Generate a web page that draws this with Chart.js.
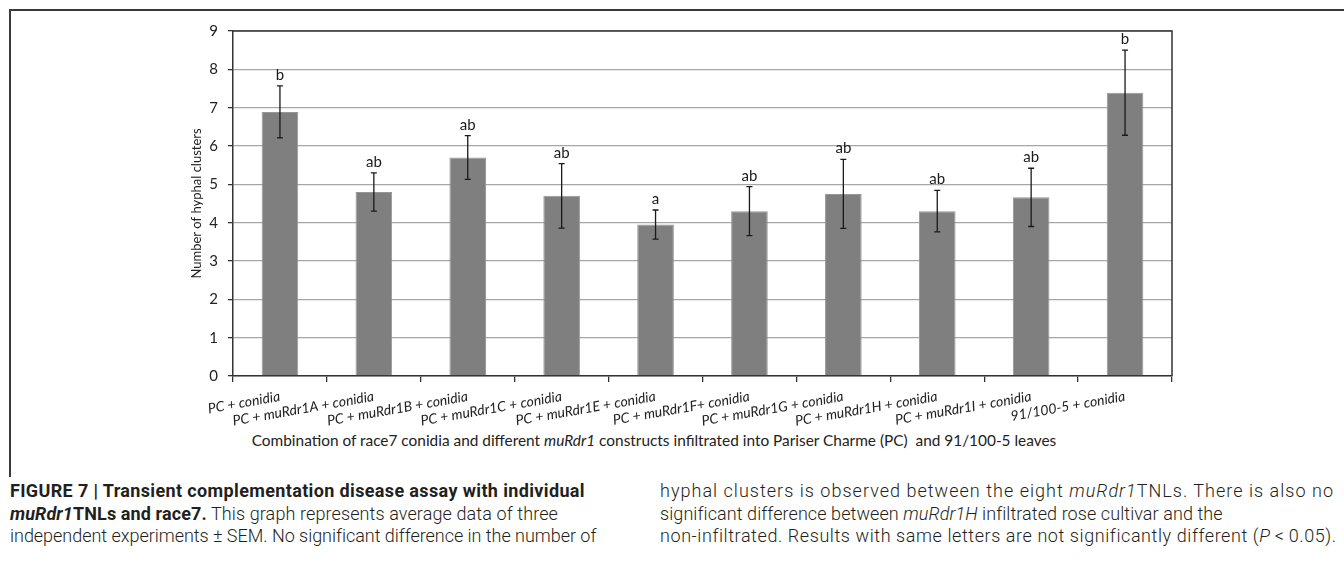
<!DOCTYPE html>
<html>
<head>
<meta charset="utf-8">
<script src="https://cdn.jsdelivr.net/npm/chart.js@4.4.0/dist/chart.umd.min.js"></script>
<style>
  body { margin: 0; background: #fff; width: 1344px; height: 583px; overflow: hidden; position: relative; font-family: Lato, sans-serif; }
  #frame { position: absolute; left: 9px; top: 9px; width: 1340px; height: 466px; border-top: 2px solid #3a3a3a; border-left: 2px solid #3a3a3a; }
  #chart { position: absolute; left: 0; top: 0; }
  #xtitle { position: absolute; top: 430px; left: 0; width: 1308px; text-align: center; font-size: 15.4px; line-height: 20px; color: #222; white-space: nowrap; }
  .cap { position: absolute; top: 480px; font-family: Roboto, sans-serif; font-size: 18px; line-height: 22.5px; color: #231f20; font-weight: 300; }
  .cap div { white-space: nowrap; }
  .cap b { font-weight: 700; }
</style>
</head>
<body>
<div id="frame"></div>
<canvas id="chart" width="1344" height="430"></canvas>
<div id="xtitle">Combination of race7 conidia and different <i>muRdr1</i> constructs infiltrated into Pariser Charme (PC)&nbsp; and 91/100-5 leaves</div>
<div class="cap" style="left:10px">
  <div data-w="575"><span><b>FIGURE 7 | Transient complementation disease assay with individual</b></span></div>
  <div data-w="548"><span><b><i>muRdr1</i>TNLs and race7.</b> This graph represents average data of three</span></div>
  <div data-w="586"><span>independent experiments ± SEM. No significant difference in the number of</span></div>
</div>
<div class="cap" style="left:660px">
  <div data-w="674"><span>hyphal clusters is observed between the eight <i>muRdr1</i>TNLs. There is also no</span></div>
  <div data-w="562"><span>significant difference between <i>muRdr1H</i> infiltrated rose cultivar and the</span></div>
  <div data-w="676"><span>non-infiltrated. Results with same letters are not significantly different (<i>P</i>&thinsp;&lt;&thinsp;0.05).</span></div>
</div>
<script>
const categories = ['PC + conidia', 'PC + muRdr1A + conidia', 'PC + muRdr1B + conidia', 'PC + muRdr1C + conidia',
  'PC + muRdr1E + conidia', 'PC + muRdr1F+ conidia', 'PC + muRdr1G + conidia', 'PC + muRdr1H + conidia',
  'PC + muRdr1I + conidia', '91/100-5 + conidia'];
const meanValues = [6.89, 4.80, 5.70, 4.70, 3.95, 4.30, 4.75, 4.30, 4.66, 7.39];
const semValues = [0.68, 0.50, 0.57, 0.84, 0.38, 0.64, 0.90, 0.54, 0.76, 1.11];
const groupLetters = ['b', 'ab', 'ab', 'ab', 'a', 'ab', 'ab', 'ab', 'ab', 'b'];
const yTicks = [0, 1, 2, 3, 4, 5, 6, 7, 8, 9];

// stretch each caption line to the width it has in the printed figure
document.querySelectorAll('.cap div').forEach(line => {
  const span = line.querySelector('span');
  const natural = span.getBoundingClientRect().width;
  const extra = Number(line.dataset.w) - natural;
  span.style.letterSpacing = (extra / span.textContent.length) + 'px';
});

// dark frame on top and right of the plot
const plotFrame = {
  id: 'plotFrame',
  afterDraw(chart) {
    const {ctx, chartArea: a} = chart;
    ctx.save();
    ctx.strokeStyle = '#333';
    ctx.lineWidth = 1.5;
    ctx.beginPath();
    ctx.moveTo(a.left, a.top);
    ctx.lineTo(a.right, a.top);
    ctx.lineTo(a.right, a.bottom);
    ctx.stroke();
    ctx.restore();
  }
};

// SEM whiskers + significance letters
const errorBars = {
  id: 'errorBars',
  afterDatasetsDraw(chart) {
    const {ctx} = chart;
    const y = chart.scales.y;
    const meta = chart.getDatasetMeta(0);
    ctx.save();
    ctx.strokeStyle = '#1a1a1a';
    ctx.fillStyle = '#1a1a1a';
    ctx.lineWidth = 1.3;
    ctx.font = '15px Lato';
    ctx.textAlign = 'center';
    meta.data.forEach((bar, i) => {
      const top = y.getPixelForValue(meanValues[i] + semValues[i]);
      const bottom = y.getPixelForValue(meanValues[i] - semValues[i]);
      ctx.beginPath();
      ctx.moveTo(bar.x, top); ctx.lineTo(bar.x, bottom);
      ctx.moveTo(bar.x - 3, top); ctx.lineTo(bar.x + 3, top);
      ctx.moveTo(bar.x - 3, bottom); ctx.lineTo(bar.x + 3, bottom);
      ctx.stroke();
      ctx.fillText(groupLetters[i], bar.x, top - 6);
    });
    ctx.restore();
  }
};

new Chart(document.getElementById('chart'), {
  type: 'bar',
  data: {
    labels: categories,
    datasets: [{
      data: meanValues,
      backgroundColor: '#7f7f7f',
      borderColor: '#969696',
      borderWidth: 1,
      barPercentage: 0.39,
      categoryPercentage: 1
    }]
  },
  options: {
    responsive: false,
    animation: false,
    layout: { padding: { left: 185, right: 172, top: 31, bottom: 0 } },
    plugins: { legend: { display: false }, tooltip: { enabled: false } },
    scales: {
      x: {
        afterFit: s => { s.height = 54; },
        grid: { drawOnChartArea: false, tickColor: '#333', tickLength: 6, lineWidth: 1.3 },
        border: { color: '#333', width: 1.5 },
        ticks: {
          autoSkip: false, minRotation: 10, maxRotation: 10, padding: 6,
          color: '#222', font: { family: 'Lato', size: 14, style: 'italic' }
        }
      },
      y: {
        min: 0, max: 9,
        afterFit: s => { s.width = 48; },
        afterBuildTicks: s => { s.ticks = yTicks.map(v => ({ value: v })); },
        grid: { color: '#a6a6a6', tickColor: '#333', tickLength: 5, lineWidth: 1.3 },
        border: { color: '#333', width: 1.5 },
        ticks: { padding: 10, color: '#222', font: { family: 'Lato', size: 15 } },
        title: { display: true, text: 'Number of hyphal clusters', color: '#222', font: { family: 'Lato', size: 13 } }
      }
    }
  },
  plugins: [plotFrame, errorBars]
});
</script>
</body>
</html>
